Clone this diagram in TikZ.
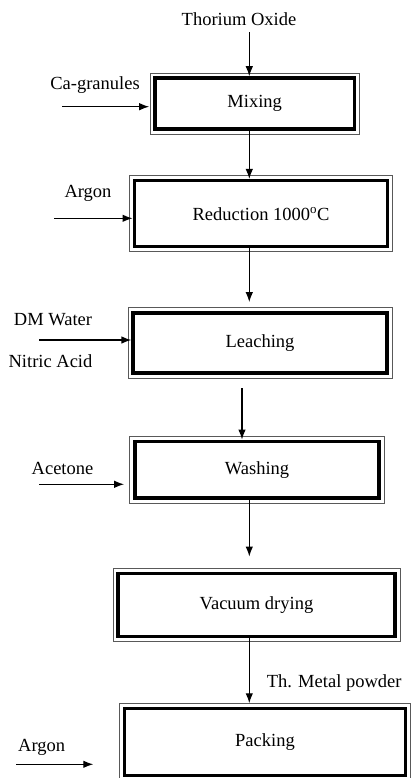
\documentclass[tikz,border=0pt]{standalone}
\usepackage{fontspec}
\setmainfont{Liberation Serif}
\usetikzlibrary{arrows.meta}
\begin{document}
\begin{tikzpicture}
[x=1pt,y=-1pt,font=\fontsize{18.5}{22}\selectfont,
ar/.style={-{Latex[length=10pt,width=7.5pt]},line width=1.2pt},
bx/.style={draw,line width=3.5pt,inner sep=2pt},
fr/.style={draw=black!65,line width=0.8pt},
lb/.style={inner sep=2pt,anchor=base}]
\useasboundingbox (0,0) rectangle (411,778);
\coordinate (axis) at (249.3,0);
\coordinate (lw) at (242,0);

\node [bx,minimum width=199.5pt,minimum height=51pt] at (254.7,103.5) (mix) {Mixing};
\node [bx,minimum width=253.4pt,minimum height=66pt] at (261,213.7) (red) {Reduction 1000\textsuperscript{o}C};
\node [bx,minimum width=253.7pt,minimum height=60.3pt] at (260,343) (leach) {Leaching};
\node [bx,minimum width=244.3pt,minimum height=56.7pt] at (257,469.7) (wash) {Washing};
\node [bx,minimum width=277pt,minimum height=63.4pt] at (256.5,605) (dry) {Vacuum drying};
\node [bx,minimum width=281pt,minimum height=67pt] at (265,742) (pack) {Packing};

\foreach \b in {mix,red,leach,wash,dry,pack}
  \draw [fr] ([shift={(-3.3pt,3.3pt)}]\b.north west) rectangle ([shift={(3.3pt,-3.3pt)}]\b.south east);

\node [lb] at (239,26) (thox) {Thorium Oxide};
\node [lb] at (95,90) (ca) {Ca-granules};
\node [lb] at (88,197) (ar1) {Argon};
\node [lb] at (53,325) (dmw) {DM Water};
\node [lb] at (50.5,367) (hno) {Nitric Acid};
\node [lb] at (62.5,474) (acet) {Acetone};
\node [lb] at (41.7,751) (ar2) {Argon};

\coordinate (cain) at (62,106.7);
\coordinate (ar1in) at (54,218.3);
\coordinate (wtin) at (39,340);
\coordinate (acin) at (39,484.3);
\coordinate (ar2in) at (16,764.3);
\coordinate (ar2out) at (93.3,764.3);

\draw [ar,shorten >=4pt] (cain) -- (cain -| mix.west);
\draw [ar] (ar1in) -- (ar1in -| red.west);
\draw [ar] (wtin) -- (wtin -| leach.west);
\draw [ar,shorten >=9pt] (acin) -- (acin -| wash.west);
\draw [ar] (ar2in) -- (ar2out);

\draw [ar,shorten <=4pt] (thox.south -| axis) -- (mix.north -| axis);
\draw [ar] (mix.south -| axis) -- (red.north -| axis);
\draw [ar,shorten >=9pt] (red.south -| axis) -- (leach.north -| axis);
\draw [ar,shorten <=13.5pt] (leach.south -| lw) -- (wash.north -| lw);
\draw [ar,shorten >=15pt] (wash.south -| axis) -- (dry.north -| axis);
\draw [ar,shorten >=3.5pt] (dry.south -| axis) -- (pack.north -| axis)
  node [pos=0.65,right=15pt,inner sep=2pt] (thm) {Th. Metal powder};
\end{tikzpicture}
\end{document}
